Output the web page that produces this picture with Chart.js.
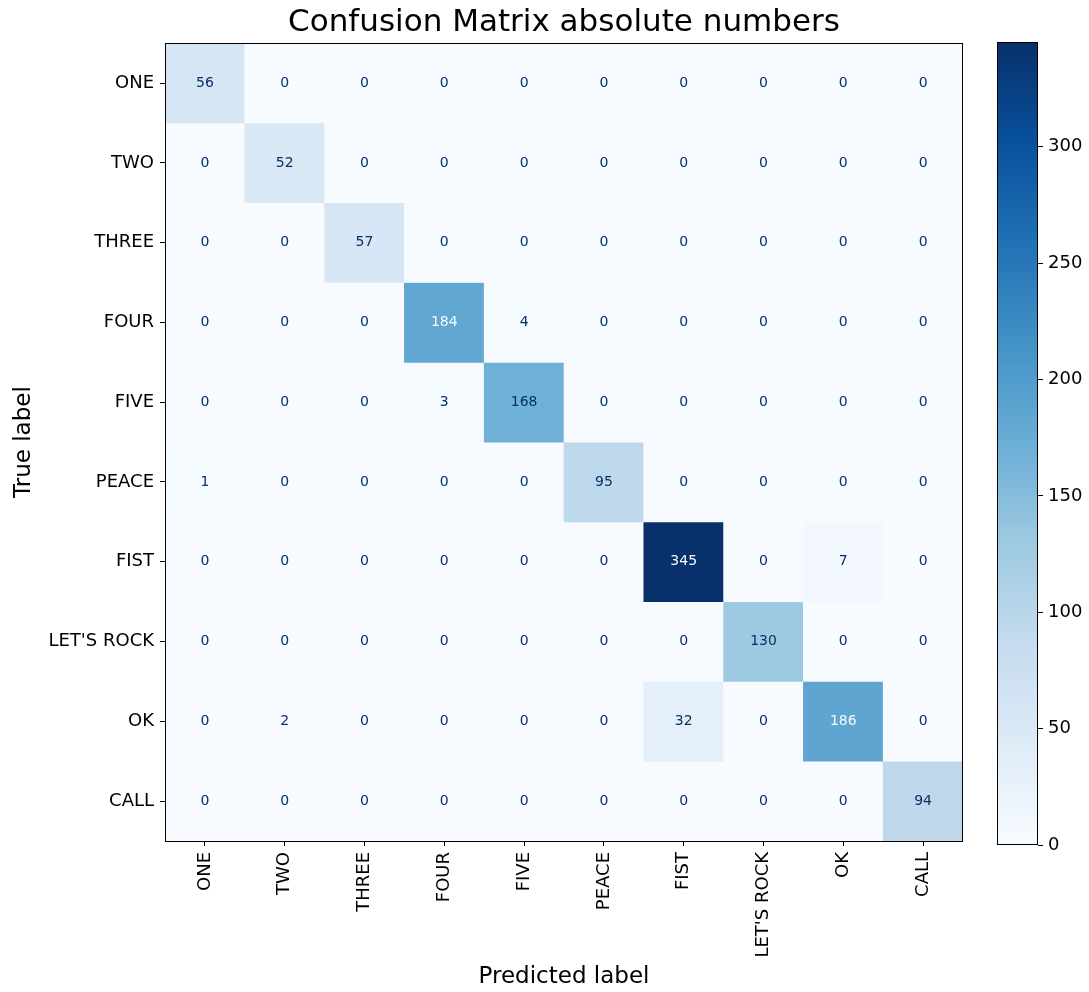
<!DOCTYPE html>
<html>
<head>
<meta charset="utf-8">
<title>Confusion Matrix absolute numbers</title>
<script src="https://cdn.jsdelivr.net/npm/chart.js@4/dist/chart.umd.min.js"></script>
<style>
  html, body { margin: 0; padding: 0; background: #ffffff; overflow: hidden; }
  #wrap { position: relative; width: 1089px; height: 992px; }
  #matrix { position: absolute; left: 0; top: 0; }
  #colorbar { position: absolute; left: 990px; top: 0; }
</style>
</head>
<body>
<div id="wrap">
  <canvas id="matrix" width="1089" height="992"></canvas>
  <canvas id="colorbar" width="99" height="992"></canvas>
</div>
<script>
// Gesture classes (same order for true and predicted labels)
const classLabels = ['ONE', 'TWO', 'THREE', 'FOUR', 'FIVE', 'PEACE', 'FIST', "LET'S ROCK", 'OK', 'CALL'];

// Counts per true label, columns follow classLabels (predicted)
const rowOne      = [56, 0, 0, 0, 0, 0, 0, 0, 0, 0];
const rowTwo      = [0, 52, 0, 0, 0, 0, 0, 0, 0, 0];
const rowThree    = [0, 0, 57, 0, 0, 0, 0, 0, 0, 0];
const rowFour     = [0, 0, 0, 184, 4, 0, 0, 0, 0, 0];
const rowFive     = [0, 0, 0, 3, 168, 0, 0, 0, 0, 0];
const rowPeace    = [1, 0, 0, 0, 0, 95, 0, 0, 0, 0];
const rowFist     = [0, 0, 0, 0, 0, 0, 345, 0, 7, 0];
const rowLetsRock = [0, 0, 0, 0, 0, 0, 0, 130, 0, 0];
const rowOk       = [0, 2, 0, 0, 0, 0, 32, 0, 186, 0];
const rowCall     = [0, 0, 0, 0, 0, 0, 0, 0, 0, 94];

const matrixRows = [rowOne, rowTwo, rowThree, rowFour, rowFive, rowPeace, rowFist, rowLetsRock, rowOk, rowCall];

// Colour scale range and colorbar ticks
const colorMin = 0;
const colorMax = 345;
const colorbarTicks = [0, 50, 100, 150, 200, 250, 300];

// "Blues" sequential colormap anchors
const bluesStops = ['#f7fbff', '#deebf7', '#c6dbef', '#9ecae1', '#6baed6', '#4292c6', '#2171b5', '#08519c', '#08306b'];

function hexToRgb(h) {
  return [parseInt(h.slice(1, 3), 16), parseInt(h.slice(3, 5), 16), parseInt(h.slice(5, 7), 16)];
}
const bluesRgb = bluesStops.map(hexToRgb);

function blues(t) {
  t = Math.max(0, Math.min(1, t));
  const pos = t * (bluesRgb.length - 1);
  const i = Math.min(Math.floor(pos), bluesRgb.length - 2);
  const f = pos - i;
  const a = bluesRgb[i], b = bluesRgb[i + 1];
  const c = a.map((v, k) => Math.round(v + (b[k] - v) * f));
  return `rgb(${c[0]}, ${c[1]}, ${c[2]})`;
}
function colorFor(v) {
  return blues((v - colorMin) / (colorMax - colorMin));
}

Chart.defaults.font.family = "'DejaVu Sans', sans-serif";
Chart.defaults.color = '#000000';

// One floating-bar dataset per true label: each cell spans [row, row + 1]
const cellDatasets = matrixRows.map((row, r) => ({
  label: classLabels[r],
  data: row.map(() => [r, r + 1]),
  counts: row,
  backgroundColor: row.map(colorFor),
  borderWidth: 0,
  grouped: false,
  categoryPercentage: 1,
  barPercentage: 1
}));

const threshold = (colorMax + colorMin) / 2;

// Cell annotations and the frame around the plot
const cellTextPlugin = {
  id: 'cellText',
  afterDatasetsDraw(chart) {
    const { ctx, scales: { x, y }, chartArea } = chart;
    ctx.save();
    ctx.font = "14px 'DejaVu Sans'";
    ctx.textAlign = 'center';
    ctx.textBaseline = 'middle';
    matrixRows.forEach((row, r) => {
      row.forEach((v, c) => {
        ctx.fillStyle = v > threshold ? bluesStops[0] : bluesStops[bluesStops.length - 1];
        ctx.fillText(String(v), x.getPixelForValue(c), y.getPixelForValue(r + 0.5));
      });
    });
    ctx.strokeStyle = '#000000';
    ctx.lineWidth = 1;
    ctx.strokeRect(Math.round(chartArea.left) + 0.5, Math.round(chartArea.top) + 0.5,
      Math.round(chartArea.right - chartArea.left) - 1, Math.round(chartArea.bottom - chartArea.top));
    ctx.restore();
  }
};

new Chart(document.getElementById('matrix'), {
  type: 'bar',
  data: { labels: classLabels, datasets: cellDatasets },
  options: {
    responsive: false,
    animation: false,
    events: [],
    layout: { padding: { left: 0, right: 126, top: 0, bottom: 0 } },
    plugins: {
      legend: { display: false },
      tooltip: { enabled: false },
      title: {
        display: true,
        text: 'Confusion Matrix absolute numbers',
        fullSize: false,
        color: '#000000',
        font: { size: 31, weight: 'normal' },
        padding: { top: 4, bottom: 2 }
      }
    },
    scales: {
      x: {
        type: 'category',
        offset: true,
        grid: { offset: false, drawOnChartArea: false, drawTicks: true, tickLength: 5, color: '#000000' },
        border: { display: false },
        ticks: { autoSkip: false, minRotation: 90, maxRotation: 90, padding: 6, color: '#000000', font: { size: 18 } },
        title: { display: true, text: 'Predicted label', color: '#000000', font: { size: 23 }, padding: { top: 0, bottom: 1 } },
        afterFit(scale) { scale.height = 151; }
      },
      y: {
        type: 'linear',
        min: 0,
        max: classLabels.length,
        reverse: true,
        grid: { drawOnChartArea: false, drawTicks: true, tickLength: 5, color: '#000000' },
        border: { display: false },
        afterBuildTicks(scale) {
          scale.ticks = classLabels.map((_, i) => ({ value: i + 0.5 }));
        },
        ticks: {
          autoSkip: false,
          padding: 6,
          color: '#000000',
          font: { size: 18 },
          callback: (value) => classLabels[Math.floor(value)]
        },
        title: { display: true, text: 'True label', color: '#000000', font: { size: 23 }, padding: { top: 10, bottom: 0 } },
        afterFit(scale) { scale.width = 165; }
      }
    }
  },
  plugins: [cellTextPlugin]
});

// Colorbar: a single floating bar spanning the colour range, filled with the colormap
const colorbarFrame = {
  id: 'colorbarFrame',
  afterDatasetsDraw(chart) {
    const { ctx, chartArea } = chart;
    ctx.save();
    ctx.strokeStyle = '#000000';
    ctx.lineWidth = 1;
    ctx.strokeRect(Math.round(chartArea.left) + 0.5, Math.round(chartArea.top) + 0.5,
      Math.round(chartArea.right - chartArea.left) - 1, Math.round(chartArea.bottom - chartArea.top) - 1);
    ctx.restore();
  }
};

new Chart(document.getElementById('colorbar'), {
  type: 'bar',
  data: {
    labels: [''],
    datasets: [{
      data: [[colorMin, colorMax]],
      borderWidth: 0,
      categoryPercentage: 1,
      barPercentage: 1,
      backgroundColor(context) {
        const area = context.chart.chartArea;
        if (!area) return bluesStops[4];
        const g = context.chart.ctx.createLinearGradient(0, area.bottom, 0, area.top);
        bluesStops.forEach((c, i) => g.addColorStop(i / (bluesStops.length - 1), c));
        return g;
      }
    }]
  },
  options: {
    responsive: false,
    animation: false,
    events: [],
    layout: { padding: { left: 7, right: 0, top: 42, bottom: 147 } },
    plugins: { legend: { display: false }, tooltip: { enabled: false }, title: { display: false } },
    scales: {
      x: { display: false, offset: true },
      y: {
        type: 'linear',
        position: 'right',
        min: colorMin,
        max: colorMax,
        grid: { drawOnChartArea: false, drawTicks: true, tickLength: 5, color: '#000000' },
        border: { display: false },
        afterBuildTicks(scale) {
          scale.ticks = colorbarTicks.map(v => ({ value: v }));
        },
        ticks: { padding: 5, color: '#000000', font: { size: 18 } },
        afterFit(scale) { scale.width = 51; }
      }
    }
  },
  plugins: [colorbarFrame]
});
</script>
</body>
</html>
